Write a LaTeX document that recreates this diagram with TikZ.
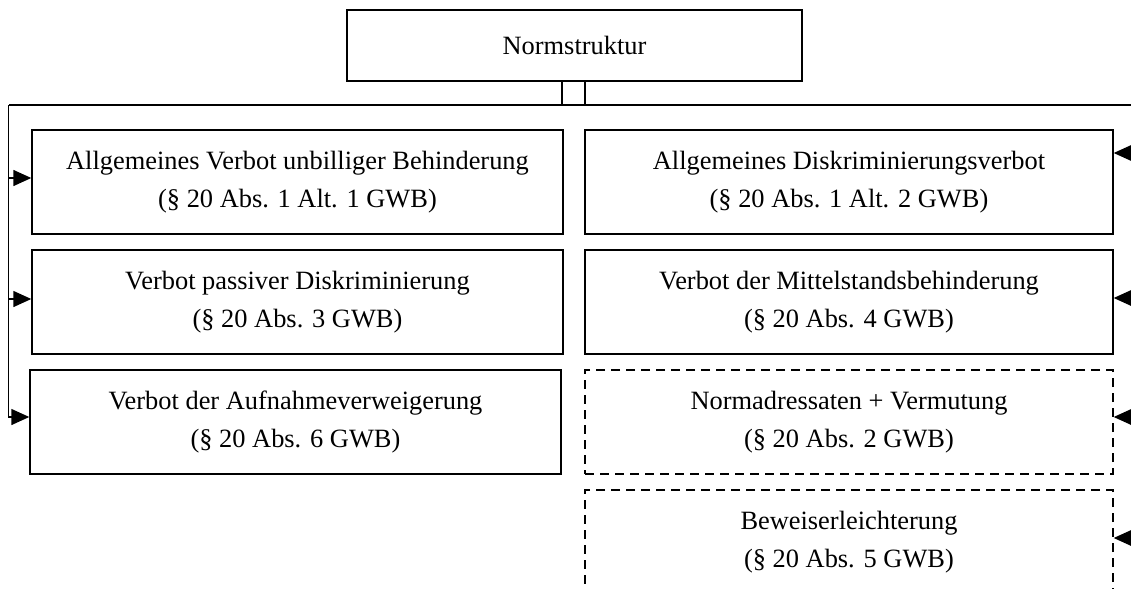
\documentclass[tikz,border=0pt]{standalone}
\usepackage{fontspec}
\setmainfont{Liberation Serif}
\usetikzlibrary{arrows.meta}

\begin{document}
\begin{tikzpicture}[
    x=0.5pt, y=-0.5pt,
    box/.style={rectangle, draw, line width=0.7pt, minimum width=265.5pt, minimum height=52pt, inner sep=0pt, align=center, font=\fontsize{13.2}{19}\selectfont},
    rbox/.style={box, minimum width=264pt},
    optbox/.style={rbox, dash pattern=on 4.5pt off 3pt},
    head/.style={box, minimum width=227.5pt, minimum height=35.5pt},
    link/.style={line width=0.7pt},
    arrow/.style={link, -{Triangle[length=9pt, width=8pt]}},
]
\useasboundingbox (0,0) rectangle (1131,589);
\clip (0,0) rectangle (1131,589);

% Kopf
\node[head] (T) at (574.5,45.5) {Normstruktur};

% linke Spalte
\node[box] (L1) at (297.5,182) {Allgemeines Verbot unbilliger Behinderung\\(§ 20 Abs. 1 Alt. 1 GWB)};
\node[box] (L2) at (297.5,302) {Verbot passiver Diskriminierung\\(§ 20 Abs. 3 GWB)};
\node[box] (L3) at (295.5,422) {Verbot der Aufnahmeverweigerung\\(§ 20 Abs. 6 GWB)};

% rechte Spalte
\node[rbox] (R1) at (849,182) {Allgemeines Diskriminierungsverbot\\(§ 20 Abs. 1 Alt. 2 GWB)};
\node[rbox] (R2) at (849,302) {Verbot der Mittelstandsbehinderung\\(§ 20 Abs. 4 GWB)};
\node[optbox] (R3) at (849,422) {Normadressaten + Vermutung\\(§ 20 Abs. 2 GWB)};
\node[optbox] (R4) at (849,542) {Beweiserleichterung\\(§ 20 Abs. 5 GWB)};

% Verteiler
\coordinate (hubL) at (562,105);
\coordinate (hubR) at (585,105);
\coordinate (lspine) at (8.5,105);
\coordinate (rspine) at (1150,105);

% Eingaenge
\coordinate (l1in) at ([yshift=2pt]L1.west);
\coordinate (l2in) at ([yshift=1.5pt]L2.west);
\coordinate (l3in) at ([yshift=2.5pt]L3.west);
\coordinate (r1in) at ([yshift=14.5pt]R1.east);
\coordinate (r2in) at ([yshift=2pt]R2.east);
\coordinate (r3in) at ([yshift=2.5pt]R3.east);
\coordinate (r4in) at ([yshift=2pt]R4.east);

% links
\draw[link] (T.south -| hubR) -- (hubR) -- (lspine);
\draw[arrow] (lspine) |- (l3in);
\draw[arrow] (lspine |- l1in) -- (l1in);
\draw[arrow] (lspine |- l2in) -- (l2in);

% rechts
\draw[link] (T.south -| hubL) -- (hubL) -- (rspine);
\draw[arrow] (rspine) |- (r4in);
\draw[arrow] (rspine |- r1in) -- (r1in);
\draw[arrow] (rspine |- r2in) -- (r2in);
\draw[arrow] (rspine |- r3in) -- (r3in);
\end{tikzpicture}
\end{document}
